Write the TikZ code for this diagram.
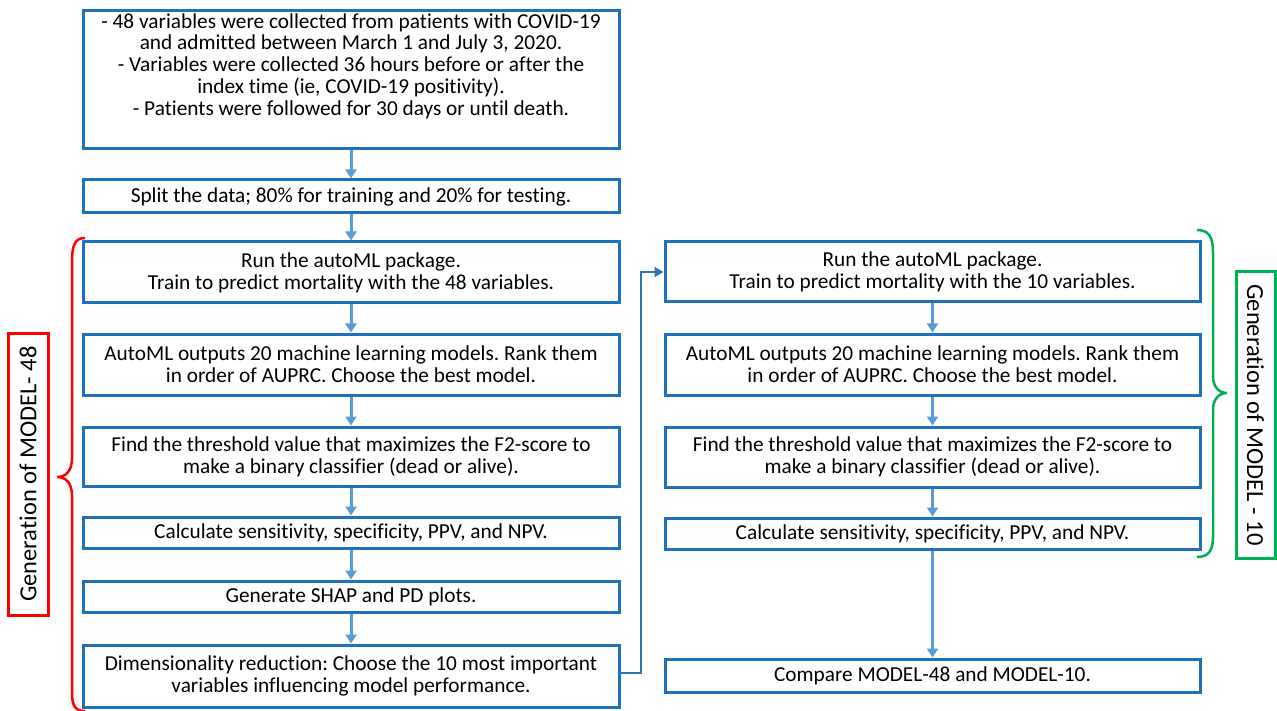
\documentclass[tikz,border=0pt]{standalone}
\usepackage{fontspec}
\setmainfont{Carlito}[Ligatures={NoCommon}]
\usetikzlibrary{arrows.meta}
\frenchspacing
\definecolor{boxblue}{RGB}{31,113,190}
\definecolor{arrblue}{RGB}{91,155,213}
\definecolor{bentblue}{RGB}{46,117,182}
\definecolor{bred}{RGB}{255,0,0}
\definecolor{bgreen}{RGB}{0,176,80}
\begin{document}
\begin{tikzpicture}[x=1pt,y=-1pt,
  box/.style={draw=boxblue, line width=3pt, align=center, inner sep=0pt,
    font=\fontsize{21.3}{22.2}\selectfont, text=black},
  lbox/.style={box, minimum width=536pt},
  rbox/.style={box, minimum width=535pt},
  conn/.style={draw=arrblue, line width=3pt, -{Triangle[length=9pt,width=11pt]}},
  bent/.style={draw=bentblue, line width=2.5pt, -{Triangle[length=9pt,width=10pt]}},
  lab/.style={line width=3pt, inner sep=0pt, font=\fontsize{24.5}{26}\selectfont, text=black}
]
\fill[white] (0,0) rectangle (1277,711);
\useasboundingbox (0,0) rectangle (1277,711);

\node[lbox, minimum height=138pt] (b1) at (351,80) {};
\node[align=center, inner sep=0pt, font=\fontsize{21.3}{21.7}\selectfont] (b1t) at (351,66) {- 48 variables were collected from patients with COVID-19\\and admitted between March 1 and July 3, 2020.\\- Variables were collected 36 hours before or after the\\index time (ie, COVID-19 positivity).\\- Patients were followed for 30 days or until death.};
\node[lbox, minimum height=33pt] (b2) at (351,196.5) {Split the data; 80\% for training and 20\% for testing.};
\node[lbox, minimum height=61pt] (l3) at (351,272.5) {Run the autoML package.\\Train to predict mortality with the 48 variables.};
\node[lbox, minimum height=61pt] (l4) at (351,364.5) {AutoML outputs 20 machine learning models. Rank them\\in order of AUPRC. Choose the best model.};
\node[lbox, minimum height=59pt] (l5) at (351,456.5) {Find the threshold value that maximizes the F2-score to\\make a binary classifier (dead or alive).};
\node[lbox, minimum height=31pt] (l6) at (351,532.5) {Calculate sensitivity, specificity, PPV, and NPV.};
\node[lbox, minimum height=31pt] (l7) at (351,596.5) {Generate SHAP and PD plots.};
\node[lbox, minimum height=62pt] (l8) at (351,676) {Dimensionality reduction: Choose the 10 most important\\variables influencing model performance.};

\node[rbox, minimum height=60pt] (r1) at (932.5,272) {Run the autoML package.\\Train to predict mortality with the 10 variables.};
\node[rbox, minimum height=61pt] (r2) at (932.5,364.5) {AutoML outputs 20 machine learning models. Rank them\\in order of AUPRC. Choose the best model.};
\node[rbox, minimum height=60pt] (r3) at (932.5,457) {Find the threshold value that maximizes the F2-score to\\make a binary classifier (dead or alive).};
\node[rbox, minimum height=31pt] (r4) at (932.5,533.5) {Calculate sensitivity, specificity, PPV, and NPV.};
\node[rbox, minimum height=33pt] (r5) at (932.5,675.5) {Compare MODEL-48 and MODEL-10.};

\draw[conn] (b1) -- (b2);
\draw[conn] (b2) -- (l3);
\draw[conn] (l3) -- (l4);
\draw[conn] (l4) -- (l5);
\draw[conn] (l5) -- (l6);
\draw[conn] (l6) -- (l7);
\draw[conn] (l7) -- (l8);
\draw[conn] (r1) -- (r2);
\draw[conn] (r2) -- (r3);
\draw[conn] (r3) -- (r4);
\draw[conn] (r4) -- (r5);
\coordinate (bend) at (641,673);
\draw[bent] (l8.east |- bend) -- (bend) |- (r1.west);

% left brace
\draw[bred, line width=2.5pt] (85,238) .. controls (75,238) and (72,245) .. (72,262) -- (72,458) .. controls (72,471) and (66,477) .. (57,477) .. controls (66,477) and (72,483) .. (72,496) -- (72,692) .. controls (72,706) and (75,711) .. (85,711);
\node[lab, draw=bred, minimum width=282pt, minimum height=40pt, rotate=90] (gl) at (28,474) {Generation of MODEL- 48};

% right brace
\draw[bgreen, line width=2.5pt] (1197,230) .. controls (1208,230) and (1213,236) .. (1213,252) -- (1213,376) .. controls (1213,387) and (1219,393) .. (1227,393) .. controls (1219,393) and (1213,399) .. (1213,410) -- (1213,537) .. controls (1213,551) and (1208,557) .. (1197,557);
\node[lab, draw=bgreen, minimum width=286pt, minimum height=39pt, rotate=-90] (gr) at (1255.5,415) {Generation of MODEL - 10};
\end{tikzpicture}
\end{document}
